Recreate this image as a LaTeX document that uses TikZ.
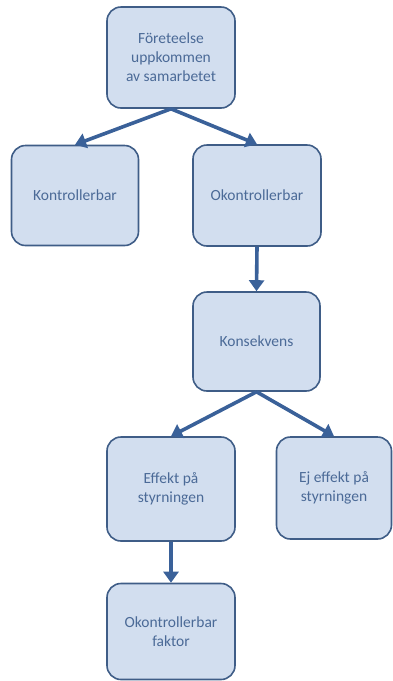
\documentclass[tikz,border=0pt]{standalone}
\usepackage{fontspec}
\setmainfont{Carlito}
\usetikzlibrary{arrows.meta}
\definecolor{boxfill}{HTML}{D2DEEF}
\definecolor{boxline}{HTML}{3F5D87}
\definecolor{boxtext}{HTML}{4B6A97}
\definecolor{arrowcol}{HTML}{3A6199}
\tikzset{
  box/.style={draw=boxline, line width=1.6pt, fill=boxfill, rounded corners=14pt,
    text=boxtext, align=center, inner sep=2pt,
    font=\fontsize{15.5}{19}\selectfont},
  link/.style={draw=arrowcol, line width=3.6pt,
    -{Triangle[length=11pt,width=15pt]}}
}
\begin{document}
\begin{tikzpicture}[x=1pt,y=-1pt]
\useasboundingbox (0,0) rectangle (393,681);
\node[box, minimum width=128pt, minimum height=101pt] (top) at (171,57.5) {Företeelse\\uppkommen\\av samarbetet};
\node[box, minimum width=127pt, minimum height=100pt] (k) at (75,195.5) {Kontrollerbar};
\node[box, minimum width=128pt, minimum height=101pt] (ok) at (257,195.5) {Okontrollerbar};
\node[box, minimum width=127pt, minimum height=99pt] (kons) at (256.5,341.5) {Konsekvens};
\node[box, minimum width=128pt, minimum height=104pt] (eff) at (171,489) {Effekt på\\styrningen};
\node[box, minimum width=115pt, minimum height=102pt] (ej) at (334,488) {Ej effekt på\\styrningen};
\node[box, minimum width=128pt, minimum height=96pt] (fak) at (171,631.5) {Okontrollerbar\\faktor};
\draw[link] (top.south) -- (k.north);
\draw[link] (top.south) -- (ok.north);
\draw[link] (ok.south) -- (kons.north);
\draw[link] (kons.south) -- (eff.north);
\draw[link] (kons.south) -- (ej.north);
\draw[link] (eff.south) -- (fak.north);
\end{tikzpicture}
\end{document}
